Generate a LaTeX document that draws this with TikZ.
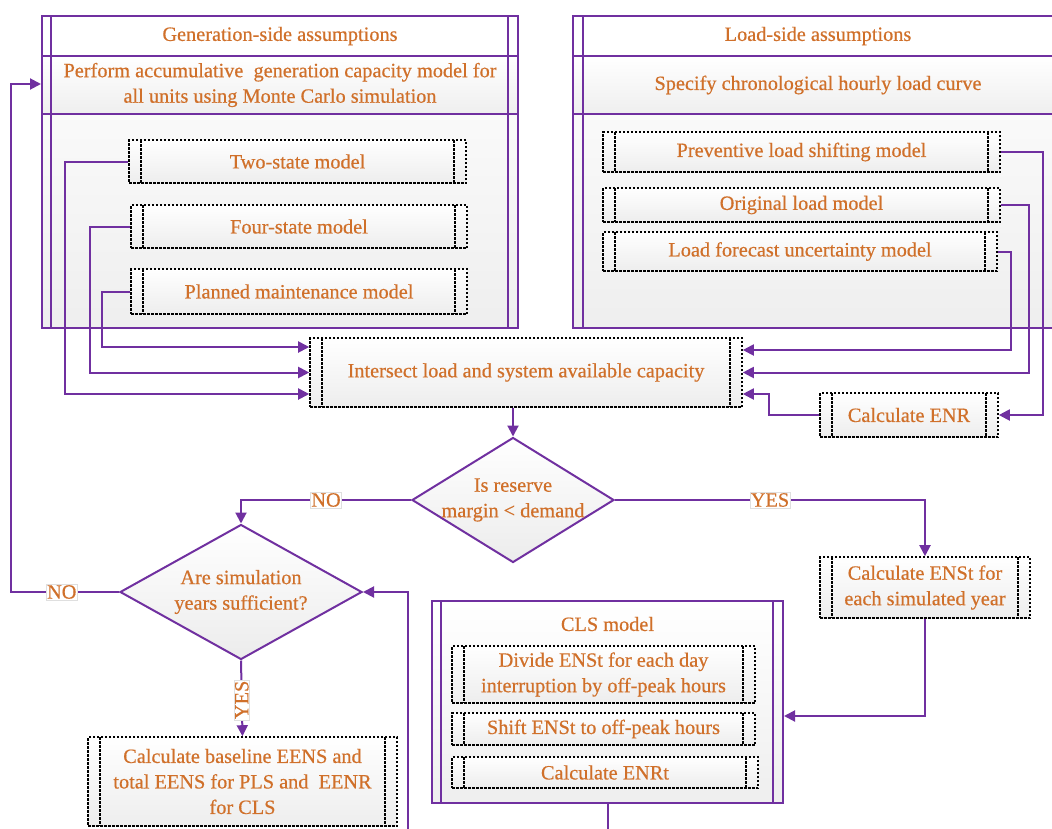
\documentclass[tikz,border=0pt]{standalone}
\usepackage{fontspec}
\setmainfont{Liberation Serif}
\newfontface\medserif{Liberation Serif}[FakeBold=0.5]
\usetikzlibrary{shapes.geometric,arrows.meta}
\definecolor{lineviolet}{RGB}{112,48,160}
\definecolor{textorange}{RGB}{208,112,42}

\begin{document}
\begin{tikzpicture}[x=1pt,y=-1pt,
  font=\medserif\fontsize{20.3}{25.5}\selectfont, text=textorange,
  conn/.style={draw=lineviolet,line width=2pt},
  arr/.style={conn,-{Triangle[length=11pt,width=11pt]}},
  dots/.style={draw=black,line width=1.6pt,dash pattern=on 2.5pt off 1.5pt},
  proc/.style={dots,top color=white,bottom color=gray!14,align=center,inner sep=0pt,
    path picture={\draw[dots]
      ([xshift=12pt]path picture bounding box.north west) -- ([xshift=12pt]path picture bounding box.south west)
      ([xshift=-12pt]path picture bounding box.north east) -- ([xshift=-12pt]path picture bounding box.south east);}},
  group/.style={draw=lineviolet,line width=2pt,top color=white,bottom color=gray!13,inner sep=0pt,align=center},
  decide/.style={diamond,draw=lineviolet,line width=2pt,top color=white,bottom color=gray!15,inner sep=0pt},
  tag/.style={fill=white,draw=gray!25,line width=0.4pt,inner sep=1pt}]
  \useasboundingbox (0,0) rectangle (1052,828);
  \clip (0,0) rectangle (1052,828);

  % generation side
  \node[group,minimum width=476,minimum height=312] (gen) at (280,172) {};
  \node[group,top color=white,bottom color=white,minimum width=476,minimum height=40] (gentitle) at (280,36) {Generation-side assumptions};
  \node[group,minimum width=476,minimum height=58] (genperf) at (280,85) {Perform accumulative\ \ generation capacity model for\\all units using Monte Carlo simulation};
  \draw[conn] ([xshift=10pt]gen.north west) -- ([xshift=10pt]gen.south west)
              ([xshift=-11pt]gen.north east) -- ([xshift=-11pt]gen.south east);
  \node[proc,minimum width=337,minimum height=43] (two) at (297.5,161.5) {Two-state model};
  \node[proc,minimum width=336,minimum height=43] (four) at (299,226.5) {Four-state model};
  \node[proc,minimum width=336,minimum height=45] (plan) at (299,291.5) {Planned maintenance model};

  % load side
  \node[group,minimum width=490,minimum height=312] (load) at (818,172) {};
  \node[group,top color=white,bottom color=white,minimum width=490,minimum height=40] (loadtitle) at (818,36) {Load-side assumptions};
  \node[group,minimum width=490,minimum height=58] (loadcurve) at (818,85) {Specify chronological hourly load curve};
  \draw[conn] ([xshift=11pt]load.north west) -- ([xshift=11pt]load.south west);
  \node[proc,minimum width=397,minimum height=40] (prev) at (801.5,152) {Preventive load shifting model};
  \node[proc,minimum width=397,minimum height=34] (orig) at (801.5,205) {Original load model};
  \node[proc,minimum width=394,minimum height=39] (lfu) at (800,251.5) {Load forecast uncertainty model};

  % main flow
  \node[proc,minimum width=432,minimum height=69] (inter) at (526,372.5) {Intersect load and system available capacity};
  \node[proc,minimum width=178,minimum height=44] (enr) at (909,415) {Calculate ENR};
  \node[decide,minimum width=202,minimum height=125] (dia1) at (513,500) {};
  \node[align=center] (dia1txt) at (dia1) {Is reserve\\margin < demand};
  \node[decide,minimum width=242,minimum height=135] (dia2) at (241,592) {};
  \node[align=center] (dia2txt) at (dia2) {Are simulation\\years sufficient?};
  \node[proc,minimum width=210,minimum height=61] (enst) at (925,587.5) {Calculate ENSt for\\each simulated year};
  \node[proc,minimum width=309,minimum height=89] (base) at (242.5,781.5) {Calculate baseline EENS and\\total EENS for PLS and\ \ EENR\\for CLS};

  % CLS model
  \node[group,minimum width=351,minimum height=202] (cls) at (607.5,702) {};
  \draw[conn] ([xshift=10pt]cls.north west) -- ([xshift=10pt]cls.south west)
              ([xshift=-11pt]cls.north east) -- ([xshift=-11pt]cls.south east);
  \node (clstitle) at (607.5,624) {CLS model};
  \node[proc,minimum width=303,minimum height=57] (divide) at (603.5,674.5) {Divide ENSt for each day\\interruption by off-peak hours};
  \node[proc,minimum width=303,minimum height=32] (shift) at (603.5,729) {Shift ENSt to off-peak hours};
  \node[proc,minimum width=306,minimum height=31] (enrt) at (605,772.5) {Calculate ENRt};
  \coordinate (loopin) at (408,850);

  % connectors
  \draw[arr] (two.west) -- ++(-63,0) |- ([yshift=-21.5pt]inter.west);
  \draw[arr] (four.west) -- ++(-40,0) |- (inter.west);
  \draw[arr] (plan.west) -- ++(-28,0) |- ([yshift=25.5pt]inter.west);
  \draw[arr] (lfu.east) -- ++(13,0) |- ([yshift=22.5pt]inter.east);
  \draw[arr] (orig.east) -- ++(28,0) |- (inter.east);
  \draw[arr] (prev.east) -- ++(42,0) |- (enr.east);
  \draw[arr] (enr.west) -- ++(-50,0) |- ([yshift=-21.5pt]inter.east);
  \draw[arr] (inter.south -| dia1.north) -- (dia1.north);
  \draw[arr] (dia1.west) -| node[tag,pos=0.25] {NO} (dia2.north);
  \draw[arr] (dia1.east) -| node[tag,pos=0.25] {YES} (enst.north);
  \draw[arr] (dia2.west) -- node[tag,pos=0.53] {NO} ++(-108,0) |- ([yshift=88pt]gen.west);
  \draw[arr] (dia2.south) -- node[tag,rotate=90,pos=0.52] {YES} (base.north);
  \draw[arr] (enst.south) |- ([yshift=-14pt]cls.east);
  \draw[conn] (cls.south) -- ++(0,40);
  \draw[arr] (loopin) |- (dia2.east);
\end{tikzpicture}
\end{document}
